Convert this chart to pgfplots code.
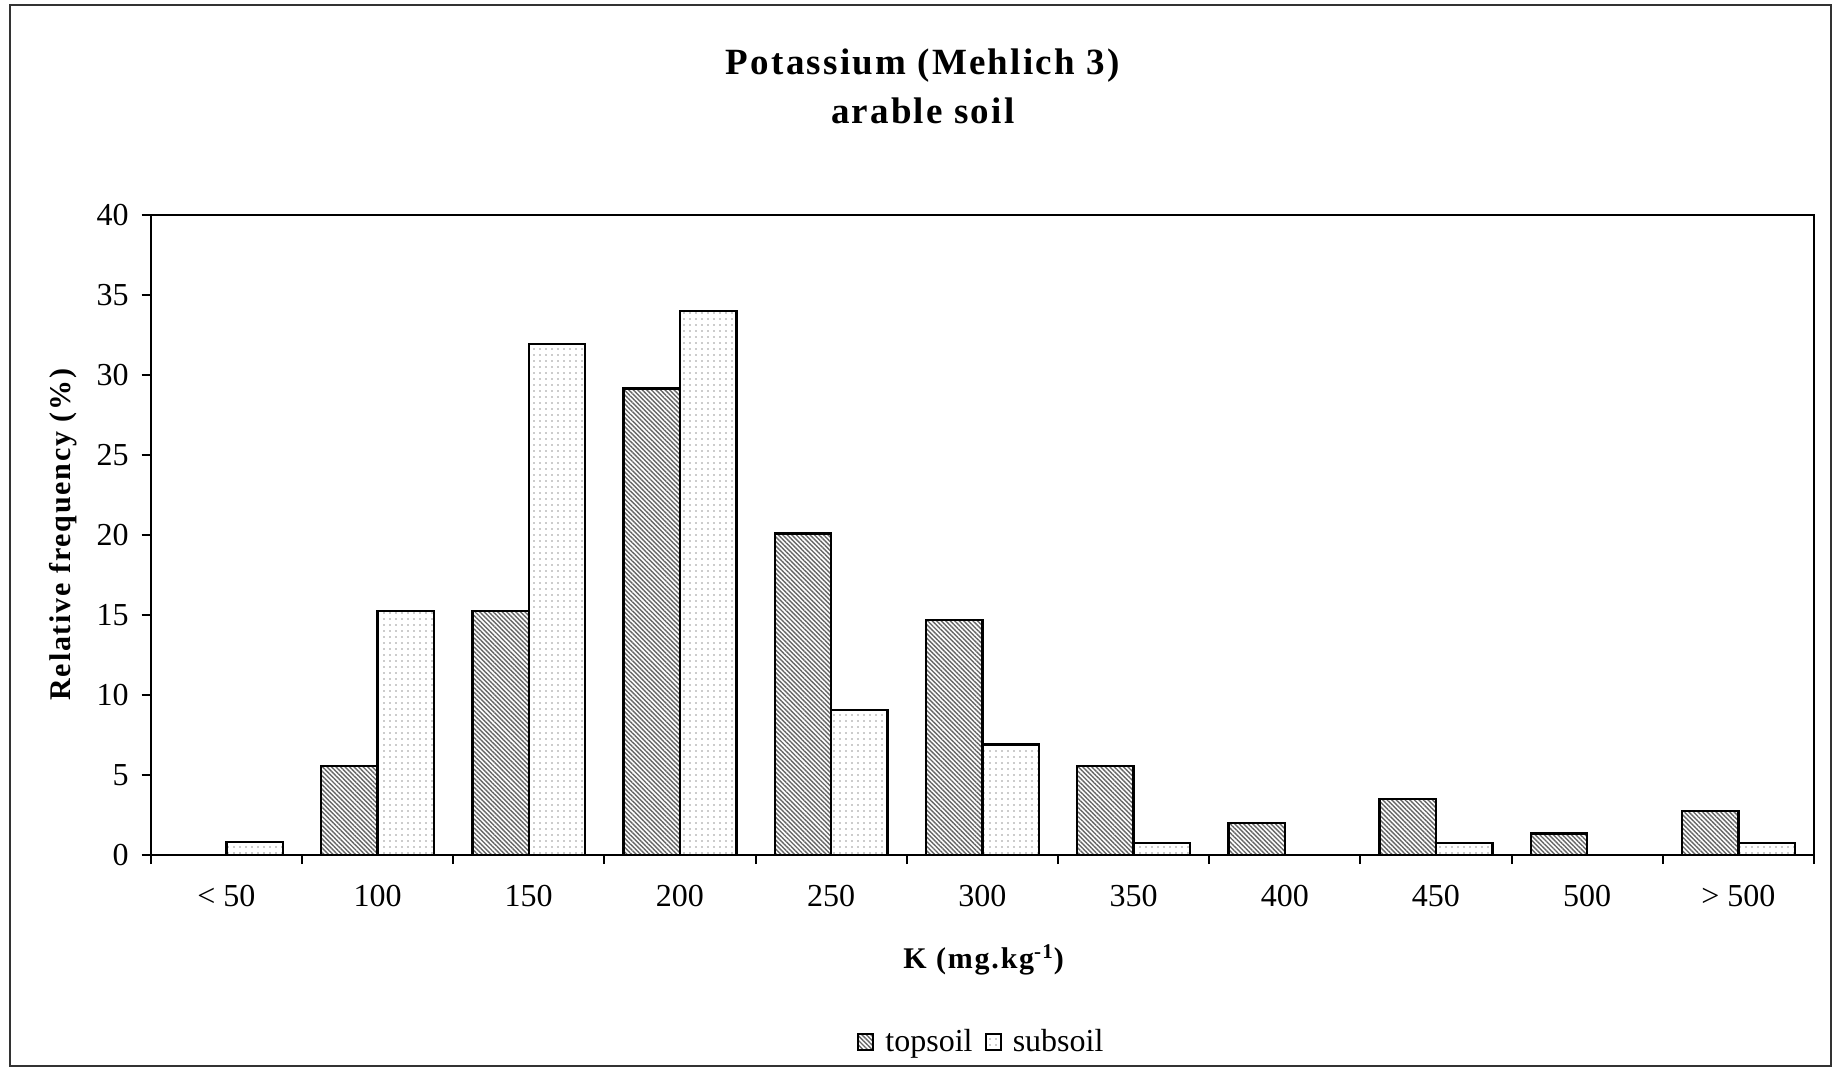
\documentclass[border=0pt]{standalone}
\usepackage{fontspec}
\setmainfont{Liberation Serif}
\newfontfamily\lsfont[LetterSpace=6]{Liberation Serif}
\usepackage{pgfplots}
\pgfplotsset{compat=1.18}
\usepackage{pgfplotstable}
\usetikzlibrary{patterns.meta}

\pgfplotstableread{
x top sub
0 0 0.8
1 5.55 15.25
2 15.25 31.95
3 29.15 34.0
4 20.1 9.05
5 14.7 6.9
6 5.55 0.75
7 2.0 0
8 3.5 0.75
9 1.35 0
10 2.75 0.75
}\potassium

\begin{document}
\begin{tikzpicture}
\useasboundingbox (-75.35pt,-107pt) rectangle (841.65pt,427.5pt);
\draw[black!80, line width=1pt] (-70.5pt,-105.5pt) rectangle (840.15pt,425.2pt);
\begin{axis}[
  at={(0,0)}, anchor=south west,
  scale only axis, width=831.65pt, height=320pt,
  ybar=0pt, bar width=28.2pt,
  xmin=-0.5, xmax=10.5, ymin=0, ymax=40,
  xtick={-0.5,0.5,...,10.5},
  x tick label as interval,
  xticklabels={{< 50},100,150,200,250,300,350,400,450,500,{> 500}},
  ytick={0,5,...,40},
  xtick pos=bottom, ytick pos=left, tick align=outside,
  major tick length=4.5pt,
  every tick/.style={black, line width=1pt},
  axis line style={line width=1pt},
  tick label style={font=\fontsize{16}{18}\selectfont},
  /pgf/number format/assume math mode=true,
  xticklabel style={yshift=-7pt},
  yticklabel style={xshift=-3pt},
  legend style={draw=none, at={(axis description cs:0.5,-0.2917)}, anchor=center,
    legend columns=2, font=\fontsize{16}{18}\selectfont,
    /tikz/every even column/.append style={column sep=4pt}},
  legend image code/.code={\draw[#1, line width=1pt] (0pt,-4pt) rectangle (7.5pt,4pt);
    \path (11pt,0pt);},
]
\addplot[draw=black, line width=1.2pt, fill=white,
  postaction={pattern={Lines[angle=-45,distance=1.6pt,line width=0.7pt]}, pattern color=black!60}]
  table[x=x,y=top]{\potassium};
\addplot[draw=black, line width=1.2pt, fill=white,
  postaction={pattern={Dots[distance=3pt,radius=0.4pt]}, pattern color=black!40}]
  table[x=x,y=sub]{\potassium};
\legend{topsoil, subsoil}
\end{axis}
\node[font=\lsfont\bfseries\fontsize{18.5}{20}\selectfont, anchor=base] at (386pt,390pt) {Potassium (Mehlich 3)};
\node[font=\lsfont\bfseries\fontsize{18.5}{20}\selectfont, anchor=base] at (386pt,365.5pt) {arable soil};
\node[font=\lsfont\bfseries\fontsize{15}{17}\selectfont, rotate=90] at (-44pt,160.2pt) {Relative frequency (\%)};
\node[font=\lsfont\bfseries\fontsize{15}{17}\selectfont] at (416.5pt,-52.5pt) {K (mg.kg\textsuperscript{-1})};
\end{tikzpicture}
\end{document}
